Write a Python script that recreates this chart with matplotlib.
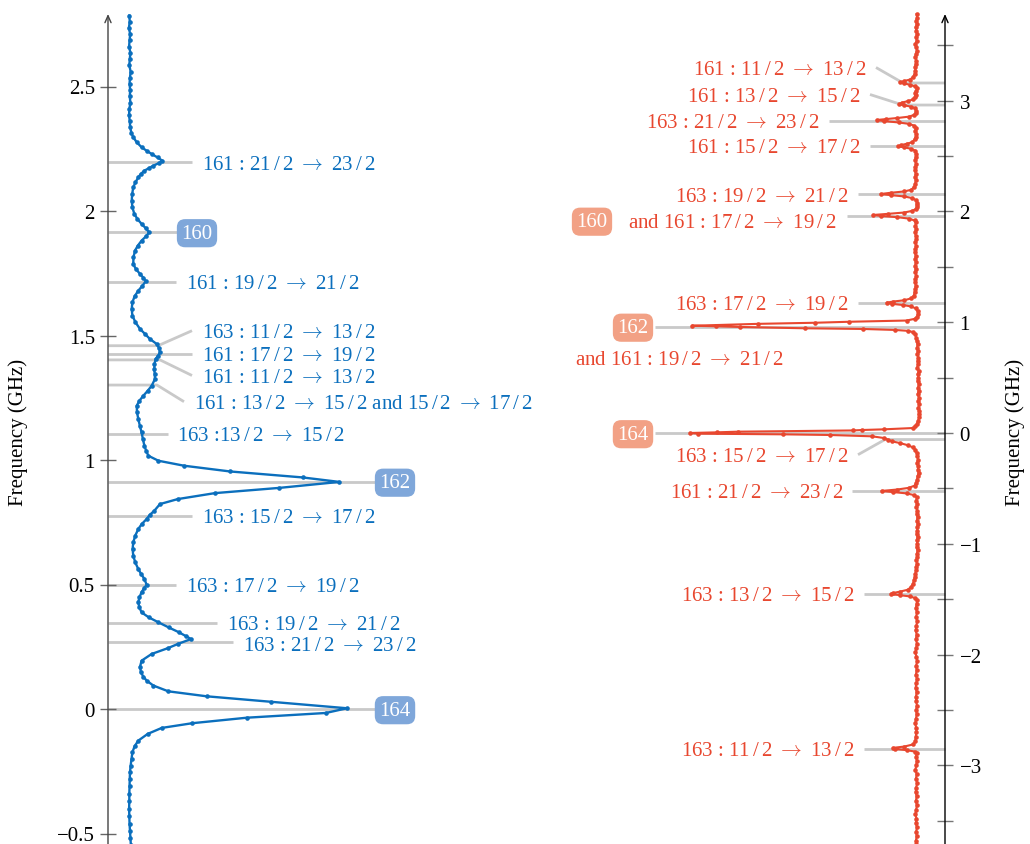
import matplotlib
matplotlib.use('Agg')
import matplotlib.pyplot as plt
from matplotlib.ticker import FixedLocator

# ---------------- data ----------------
# Left spectrum (blue): frequency (GHz) and signal (arb. units, 164 peak = 1)
left_freq = [2.785, 2.76, 2.735, 2.71, 2.685, 2.66, 2.635, 2.61, 2.585, 2.56, 2.535, 2.51,
             2.485, 2.46, 2.435, 2.41, 2.385, 2.36, 2.336, 2.315, 2.296, 2.276, 2.256, 2.242,
             2.229, 2.215, 2.202, 2.192, 2.182, 2.172, 2.162, 2.148, 2.135, 2.115, 2.095, 2.068,
             2.041, 2.015, 1.988, 1.968, 1.948, 1.930, 1.914, 1.898, 1.881, 1.861, 1.841, 1.814,
             1.787, 1.767, 1.747, 1.732, 1.718, 1.700, 1.680, 1.657, 1.633, 1.607, 1.580, 1.553,
             1.526, 1.506, 1.486, 1.466, 1.449, 1.432, 1.419, 1.406, 1.385, 1.365, 1.345, 1.325,
             1.298, 1.278, 1.258, 1.238, 1.218, 1.192, 1.165, 1.138, 1.111, 1.084, 1.057, 1.037,
             1.017, 0.997, 0.977, 0.954, 0.930, 0.912, 0.888, 0.867, 0.843, 0.823, 0.796, 0.780,
             0.763, 0.743, 0.723, 0.696, 0.669, 0.643, 0.616, 0.589, 0.562, 0.542, 0.522, 0.499,
             0.484, 0.469, 0.448, 0.428, 0.408, 0.388, 0.368, 0.348, 0.328, 0.308, 0.292, 0.281,
             0.262, 0.244, 0.221, 0.194, 0.170, 0.147, 0.130, 0.114, 0.094, 0.071, 0.051, 0.029,
             0.003, -0.016, -0.035, -0.057, -0.076, -0.100, -0.127, -0.150, -0.174, -0.200, -0.228,
             -0.254, -0.28, -0.31, -0.34, -0.37, -0.40, -0.43, -0.46, -0.49, -0.52, -0.545]
left_signal = [0.006, 0.008, 0.004, 0.010, 0.007, 0.005, 0.011, 0.008, 0.006, 0.012, 0.009, 0.007,
               0.010, 0.008, 0.011, 0.006, 0.005, 0.008, 0.010, 0.015, 0.024, 0.040, 0.062, 0.085,
               0.108, 0.135, 0.157, 0.140, 0.116, 0.095, 0.075, 0.058, 0.047, 0.034, 0.024, 0.019,
               0.017, 0.020, 0.029, 0.043, 0.062, 0.082, 0.097, 0.082, 0.062, 0.045, 0.032, 0.025,
               0.024, 0.036, 0.055, 0.070, 0.081, 0.066, 0.047, 0.030, 0.020, 0.017, 0.020, 0.034,
               0.055, 0.078, 0.100, 0.131, 0.142, 0.146, 0.138, 0.126, 0.121, 0.120, 0.122, 0.123,
               0.108, 0.090, 0.070, 0.052, 0.040, 0.041, 0.047, 0.054, 0.062, 0.068, 0.075, 0.083,
               0.093, 0.139, 0.256, 0.466, 0.797, 0.965, 0.691, 0.397, 0.227, 0.146, 0.120, 0.100,
               0.085, 0.063, 0.047, 0.033, 0.024, 0.021, 0.024, 0.033, 0.047, 0.060, 0.075, 0.085,
               0.073, 0.062, 0.052, 0.047, 0.052, 0.062, 0.095, 0.139, 0.185, 0.233, 0.265, 0.288,
               0.230, 0.181, 0.108, 0.062, 0.055, 0.059, 0.070, 0.085, 0.116, 0.184, 0.359, 0.652,
               1.000, 0.903, 0.542, 0.294, 0.154, 0.090, 0.047, 0.030, 0.020, 0.016, 0.012,
               0.009, 0.008, 0.007, 0.006, 0.006, 0.005, 0.006, 0.007, 0.009, 0.011, 0.013]

# Right spectrum (red): frequency (GHz) and signal (arb. units, 162 peak = 1)
right_freq = [
    3.78, 3.75, 3.72, 3.69, 3.66, 3.63, 3.60, 3.57, 3.54, 3.51,
    3.48, 3.45, 3.42, 3.39, 3.36, 3.33, 3.30, 3.27, 3.24, 3.21,
    3.19, 3.177, 3.165, 3.155, 3.143, 3.128, 3.11,
    3.09, 3.07, 3.05, 3.03, 3.01, 2.995, 2.982, 2.969,
    2.958, 2.945, 2.93, 2.91, 2.89, 2.87,
    2.855, 2.843, 2.833, 2.825, 2.815, 2.803, 2.79, 2.775,
    2.755, 2.73, 2.70, 2.675, 2.65,
    2.625, 2.61, 2.598, 2.588, 2.578, 2.565,
    2.548, 2.52, 2.49, 2.46, 2.43, 2.40, 2.37, 2.34, 2.31, 2.28, 2.25,
    2.22, 2.195, 2.18, 2.168, 2.157, 2.147, 2.135, 2.12,
    2.10, 2.08, 2.06, 2.04, 2.02, 2.005,
    1.99, 1.978, 1.968, 1.958, 1.948, 1.935, 1.918,
    1.90, 1.87, 1.84, 1.81, 1.78, 1.75, 1.72, 1.69, 1.66, 1.63, 1.60, 1.57,
    1.54, 1.51, 1.48, 1.45, 1.42, 1.39, 1.36, 1.33, 1.30, 1.27, 1.24,
    1.215, 1.198, 1.186, 1.176, 1.166, 1.155, 1.142, 1.125, 1.10,
    1.075, 1.05, 1.03, 1.015, 1.004, 0.995, 0.985, 0.968, 0.963, 0.957,
    0.945, 0.939, 0.930, 0.922, 0.91, 0.89,
    0.86, 0.83, 0.80, 0.77, 0.74, 0.71, 0.68, 0.65, 0.62, 0.59,
    0.56, 0.53, 0.50, 0.47, 0.44, 0.41, 0.38, 0.35, 0.32, 0.29,
    0.26, 0.23, 0.20, 0.17, 0.14, 0.11, 0.08, 0.06,
    0.045, 0.033, 0.027, 0.023, 0.012, 0.006, 0.000, -0.006,
    -0.012, -0.018, -0.030, -0.045, -0.060, -0.075, -0.09, -0.11,
    -0.13, -0.15, -0.18, -0.21, -0.24, -0.27, -0.30, -0.33,
    -0.36, -0.39, -0.42, -0.45,
    -0.475, -0.495, -0.51, -0.523, -0.533, -0.545, -0.56, -0.58,
    -0.61, -0.64, -0.67, -0.70, -0.73, -0.76, -0.79, -0.82, -0.85, -0.88, -0.91,
    -0.94, -0.97, -1.00, -1.03, -1.06, -1.09, -1.12, -1.15, -1.18, -1.21, -1.24,
    -1.27, -1.30, -1.33, -1.36, -1.39,
    -1.415, -1.432, -1.445, -1.453, -1.463, -1.475, -1.49, -1.51,
    -1.54, -1.58, -1.62, -1.66, -1.70, -1.74, -1.78, -1.82, -1.86, -1.90, -1.94, -1.98,
    -2.02, -2.06, -2.10, -2.14, -2.18, -2.22, -2.26, -2.30, -2.34, -2.38, -2.42, -2.46,
    -2.50, -2.54, -2.58, -2.62, -2.66, -2.70, -2.74, -2.78,
    -2.81, -2.83, -2.842, -2.852, -2.862, -2.875, -2.89, -2.92,
    -2.96, -3.00, -3.04, -3.08, -3.12, -3.16, -3.20, -3.24, -3.28, -3.32, -3.36, -3.40,
    -3.44, -3.48, -3.52, -3.56, -3.60, -3.64, -3.68, -3.71]
right_signal = [
    0.006, 0.004, 0.008, 0.005, 0.010, 0.007, 0.004, 0.009, 0.006, 0.011,
    0.008, 0.005, 0.009, 0.012, 0.007, 0.010, 0.013, 0.011, 0.015, 0.022,
    0.035, 0.060, 0.079, 0.062, 0.035, 0.012, 0.005,
    0.008, 0.012, 0.010, 0.014, 0.022, 0.045, 0.070, 0.082,
    0.060, 0.030, 0.012, 0.008, 0.010, 0.018,
    0.040, 0.090, 0.140, 0.180, 0.150, 0.085, 0.040, 0.018,
    0.010, 0.012, 0.008, 0.010, 0.014,
    0.025, 0.050, 0.075, 0.086, 0.060, 0.030,
    0.012, 0.008, 0.010, 0.013, 0.009, 0.011, 0.014, 0.010, 0.012, 0.009, 0.013,
    0.016, 0.030, 0.060, 0.120, 0.163, 0.120, 0.060, 0.025,
    0.008, 0.004, 0.006, 0.003, 0.010, 0.025,
    0.060, 0.130, 0.195, 0.160, 0.090, 0.040, 0.015,
    0.010, 0.011, 0.008, 0.013, 0.010, 0.007, 0.012, 0.009, 0.011, 0.014, 0.010, 0.012,
    0.009, 0.013, 0.010, 0.012, 0.008, 0.011, 0.013, 0.010, 0.012, 0.015, 0.018,
    0.030, 0.060, 0.110, 0.137, 0.115, 0.065, 0.030, 0.010, 0.002,
    0.000, 0.004, 0.015, 0.050, 0.300, 0.450, 0.700, 0.987, 0.880, 0.777,
    0.493, 0.240, 0.100, 0.044, 0.020, 0.012,
    0.008, 0.005, 0.002, 0.004, 0.000, 0.003, -0.002, 0.002, 0.000, 0.004,
    -0.003, 0.001, -0.002, 0.002, -0.004, 0.000, -0.003, 0.001, -0.004, -0.002,
    -0.005, -0.002, -0.006, -0.003, -0.005, 0.000, 0.005, 0.012,
    0.020, 0.150, 0.245, 0.284, 0.786, 0.878, 0.996, 0.961,
    0.590, 0.384, 0.200, 0.150, 0.130, 0.115, 0.080, 0.045,
    0.022, 0.012, 0.006, 0.003, 0.000, 0.004, -0.002, 0.001,
    -0.003, 0.002, 0.004, 0.008,
    0.015, 0.040, 0.090, 0.159, 0.110, 0.050, 0.018, 0.005,
    0.008, 0.004, 0.007, 0.003, 0.006, 0.002, 0.005, 0.001, 0.004, 0.003, 0.006,
    0.002, 0.005, 0.003, 0.006, 0.002, 0.005, 0.004, 0.007, 0.005, 0.008, 0.009,
    0.012, 0.014, 0.018, 0.022, 0.030,
    0.045, 0.080, 0.110, 0.119, 0.080, 0.035, 0.012, 0.004,
    0.006, 0.009, 0.005, 0.008, 0.004, 0.007, 0.010, 0.006, 0.009, 0.005, 0.008, 0.011,
    0.007, 0.004, 0.008, 0.006, 0.009, 0.005, 0.008, 0.010, 0.006, 0.009, 0.007, 0.005,
    0.008, 0.006, 0.009, 0.012, 0.008, 0.007, 0.010, 0.012,
    0.020, 0.060, 0.110, 0.100, 0.050, 0.015, 0.006, 0.009,
    0.005, 0.008, 0.011, 0.006, 0.009, 0.004, 0.008, 0.010, 0.006, 0.009, 0.005, 0.008,
    0.011, 0.007, 0.009, 0.005, 0.008, 0.006, 0.009, 0.007]

# Assignments (left panel)
left_labels = ['161 : 21/2 → 23/2', '160', '161 : 19/2 → 21/2', '163 : 11/2 → 13/2',
               '161 : 17/2 → 19/2', '161 : 11/2 → 13/2',
               '161 : 13/2 → 15/2 and 15/2 → 17/2', '163 :13/2 → 15/2', '162',
               '163 : 15/2 → 17/2', '163 : 17/2 → 19/2', '163 : 19/2 → 21/2',
               '163 : 21/2 → 23/2', '164']
left_line_freq = [2.195, 1.914, 1.715, 1.459, 1.426, 1.402, 1.301, 1.106, 0.912, 0.777,
                  0.499, 0.344, 0.270, 0.0]

# Assignments (right panel)
right_labels = ['161 : 11/2 → 13/2', '161 : 13/2 → 15/2', '163 : 21/2 → 23/2',
                '161 : 15/2 → 17/2', '163 : 19/2 → 21/2', 'and 161 : 17/2 → 19/2',
                '163 : 17/2 → 19/2', 'and 161 : 19/2 → 21/2', '',
                '163 : 15/2 → 17/2', '161 : 21/2 → 23/2', '163 : 13/2 → 15/2',
                '163 : 11/2 → 13/2']
right_boxes = ['', '', '', '', '', '160', '', '162', '164', '', '', '', '']
right_line_freq = [3.159, 2.960, 2.819, 2.590, 2.154, 1.961, 1.173, 0.961, 0.0, -0.059,
                   -0.523, -1.453, -2.855]

left_ticks = [-0.5, 0, 0.5, 1, 1.5, 2, 2.5]
left_ticklabels = ['−0.5', '0', '0.5', '1', '1.5', '2', '2.5']
right_ticks = [-3, -2, -1, 0, 1, 2, 3]
right_ticklabels = ['−3', '−2', '−1', '0', '1', '2', '3']
right_minor = [-3.5, -2.5, -1.5, -0.5, 0.5, 1.5, 2.5, 3.5]

# ---------------- style / layout ----------------
W, H = 1030, 845
plt.rcParams['font.family'] = ['Liberation Serif', 'DejaVu Serif']
plt.rcParams['mathtext.fontset'] = 'cm'
FS = 15
BLUE, BLUE_BOX = '#0b6fbd', '#7fa7da'
RED, RED_BOX = '#e8472f', '#f2a185'
GREY = '#c9c9c9'
LW_LEAD = 2.0
TXT_DY = 2.0   # px nudge so label text centres on the reference baseline


def fmt(s):
    """TeX-like rendering: wide arrow and slightly spaced fraction slash."""
    return s.replace('/', r'$\,$/$\,$').replace('→', r'$\rightarrow$')


fig = plt.figure(figsize=(W / 100, H / 100), dpi=100)

axL = fig.add_axes([108 / W, 0, (560 - 108) / W, (H - 15) / H])
axL.set_xlim(-20 / 219, (560 - 128) / 219)
axL.set_ylim((710 - 845) / 249, (710 - 15) / 249)

axR = fig.add_axes([560 / W, 0, (945 - 560) / W, (H - 15) / H])
axR.set_xlim((918 - 560) / 229, (918 - 945) / 229)
axR.set_ylim((434 - 845) / 110.8, (434 - 15) / 110.8)

for ax in (axL, axR):
    for s in ax.spines.values():
        s.set_visible(False)
    ax.set_xticks([])
    ax.patch.set_visible(False)


def to_data(ax, xp, yp):
    return ax.transData.inverted().transform((xp, H - yp))


# axis lines with arrows
for ax, col, x0 in ((axL, '#444444', axL.get_xlim()[0]), (axR, '#000000', axR.get_xlim()[1])):
    y0, y1 = ax.get_ylim()
    ax.annotate('', xy=(x0, y1), xytext=(x0, y0), xycoords='data',
                arrowprops=dict(arrowstyle='->,head_length=0.5,head_width=0.22',
                                color=col, lw=1.0, shrinkA=0, shrinkB=0),
                annotation_clip=False, zorder=5)

# ticks
axL.yaxis.set_major_locator(FixedLocator(left_ticks))
axL.set_yticklabels(left_ticklabels)
axL.tick_params(axis='y', direction='inout', length=11, width=1.0, color='#666666',
                labelsize=FS, pad=4)
axR.yaxis.tick_right()
axR.yaxis.set_major_locator(FixedLocator(right_ticks))
axR.set_yticklabels(right_ticklabels)
axR.yaxis.set_minor_locator(FixedLocator(right_minor))
axR.tick_params(axis='y', which='both', direction='inout', length=11, width=1.0,
                color='#777777', labelsize=FS, pad=5)

# curves
axL.plot(left_signal, left_freq, color=BLUE, lw=1.7, marker='o', ms=3.3, mew=0,
         zorder=3, clip_on=False)
axR.plot(right_signal, right_freq, color=RED, lw=1.5, marker='o', ms=3.3, mew=0,
         zorder=3, clip_on=False)

# ---------------- left annotations ----------------
# (text x px, text y px, line end px, break px, box centre x px)
left_layout = [(202, 163.5, 192, None, None),
               (None, 233.5, 177, None, 197),
               (186, 283, 176, None, None),
               (202, 331.7, 192, 158, None),
               (202, 355, 192, None, None),
               (202, 376.5, 192, 160, None),
               (194, 402.7, 184, 157, None),
               (177, 434.5, 168, None, None),
               (None, 483, 375, None, 395),
               (202, 516.5, 192, None, None),
               (186, 585.5, 176, None, None),
               (227, 623.5, 217, None, None),
               (243, 645, 233, None, None),
               (None, 710.5, 375, None, 395)]

xl0 = axL.get_xlim()[0]
for lab, f, (tx, ty, le, br, bx) in zip(left_labels, left_line_freq, left_layout):
    if br is None:
        xe = to_data(axL, le, 0)[0]
        axL.plot([xl0, xe], [f, f], color=GREY, lw=LW_LEAD, zorder=1,
                 solid_capstyle='butt', clip_on=False)
    else:
        xb = to_data(axL, br, 0)[0]
        xe, ye = to_data(axL, le, ty)
        axL.plot([xl0, xb, xe], [f, f, ye], color=GREY, lw=LW_LEAD, zorder=1,
                 solid_capstyle='butt', clip_on=False)
    if bx is None:
        px, py = to_data(axL, tx, ty + TXT_DY)
        axL.text(px, py, fmt(lab), color=BLUE, fontsize=FS, ha='left', va='center',
                 zorder=4, clip_on=False)
    else:
        px, py = to_data(axL, bx, ty + 0.7)
        axL.text(px, py, lab, color='white', fontsize=FS, ha='center', va='center',
                 zorder=4, clip_on=False,
                 bbox=dict(boxstyle='round,pad=0.22,rounding_size=0.4', fc=BLUE_BOX,
                           ec='none'))

# ---------------- right annotations ----------------
# (text anchor x px, text y px, ha, line end px, diag end (x,y) px, box centre (x,y) px)
right_layout = [(866, 69, 'right', 903, (876, 68.5), None),
                (860, 96, 'right', 903, (870, 95.5), None),
                (819, 122, 'right', 829, None, None),
                (860, 147, 'right', 870, None, None),
                (848, 195.5, 'right', 858, None, None),
                (837, 222, 'right', 847, None, (592, 222)),
                (848, 304, 'right', 858, None, None),
                (575, 358.7, 'left', 655, None, (633, 328)),
                (None, None, 'left', 655, None, (633, 434.5)),
                (848, 455.5, 'right', 885, (858, 455.7), None),
                (843, 492, 'right', 852, None, None),
                (854, 595, 'right', 864, None, None),
                (854, 749.5, 'right', 864, None, None)]

xr0 = axR.get_xlim()[1]
for lab, box, f, (tx, ty, ha, le, dg, bc) in zip(right_labels, right_boxes,
                                                 right_line_freq, right_layout):
    xe = to_data(axR, le, 0)[0]
    if dg is None:
        axR.plot([xr0, xe], [f, f], color=GREY, lw=LW_LEAD, zorder=1,
                 solid_capstyle='butt', clip_on=False)
    else:
        dx, dy = to_data(axR, dg[0], dg[1])
        axR.plot([xr0, xe, dx], [f, f, dy], color=GREY, lw=LW_LEAD, zorder=1,
                 solid_capstyle='butt', clip_on=False)
    if lab:
        px, py = to_data(axR, tx, ty + TXT_DY)
        axR.text(px, py, fmt(lab), color=RED, fontsize=FS, ha=ha, va='center', zorder=4,
                 clip_on=False)
    if box:
        px, py = to_data(axR, bc[0], bc[1] + 0.7)
        axR.text(px, py, box, color='white', fontsize=FS, ha='center', va='center',
                 zorder=4, clip_on=False,
                 bbox=dict(boxstyle='round,pad=0.22,rounding_size=0.4', fc=RED_BOX,
                           ec='none'))

# axis titles
fig.text(18 / W, 1 - 432 / H, 'Frequency (GHz)', rotation=90, ha='center', va='center',
         fontsize=FS)
fig.text(1015 / W, 1 - 432 / H, 'Frequency (GHz)', rotation=90, ha='center', va='center',
         fontsize=FS)

fig.savefig('out.png', dpi=100)
